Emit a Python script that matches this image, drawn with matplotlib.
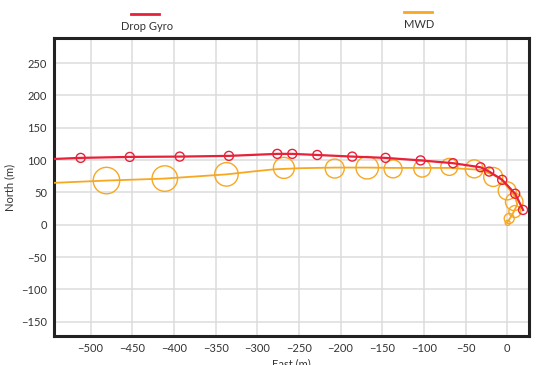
"""
Vista em planta: Drop Gyro x MWD
"""

import matplotlib
matplotlib.use("Agg")
import matplotlib.pyplot as plt
from matplotlib.lines import Line2D

plt.rcParams["font.family"] = ["Lato", "DejaVu Sans"]

# Drop Gyro - trajetória e estações
gyro_line_east = [-560, -512, -453, -393, -334, -276, -258, -228, -186, -146,
                  -104, -65, -32, -21.6, -6, 9.6, 19]
gyro_line_north = [101, 103.5, 105, 105.5, 106.6, 109.7, 109.7, 108, 105.5, 103.5,
                   99.6, 95.3, 89, 82.3, 69.5, 48, 23]
gyro_sta_east = [-512, -453, -393, -334, -276, -258, -228, -186, -146,
                 -104, -65, -32, -21.6, -6, 9.6, 19]
gyro_sta_north = [103.5, 105, 105.5, 106.6, 109.7, 109.7, 108, 105.5, 103.5,
                  99.6, 95.3, 89, 82.3, 69.5, 48, 23]

# MWD - trajetória e elipses de incerteza (diâmetro em px)
mwd_line_east = [-560, -481, -411, -337, -305, -280, -250, -207, -168, -137, -102,
                 -69.5, -32, -8.4, 9.6, 12, 6, 0]
mwd_line_north = [64, 68.4, 71.5, 78, 82.5, 85.8, 87.5, 88.5, 88.5, 88, 88,
                  88, 85, 72.6, 43, 31, 15.4, 3.5]
mwd_sta_east = [-481, -411, -337, -268, -207, -168, -137, -102, -69.5, -39.6,
                -16.8, 0, 8.4, 9.2, 2.4, 0.6]
mwd_sta_north = [68.4, 71.5, 78, 88, 87, 88.3, 86.5, 87, 89.6, 86.5,
                 74, 52.5, 35.5, 20.5, 9.7, 3]
mwd_sta_diam = [26.5, 25.5, 23.5, 21, 19, 22.5, 18, 17, 17, 18,
                19, 18, 17.5, 12, 10, 5]

x_ticks = [-500, -450, -400, -350, -300, -250, -200, -150, -100, -50, 0]
y_ticks = [-150, -100, -50, 0, 50, 100, 150, 200, 250]

RED = "#E8213A"
ORANGE = "#F7A823"
TXT = "#333333"

fig = plt.figure(figsize=(5.36, 3.65), dpi=100)
ax = fig.add_axes([0.1007, 0.0795, 0.886, 0.8165])

ax.plot(mwd_line_east, mwd_line_north, color=ORANGE, lw=1.3, zorder=3)
ax.scatter(mwd_sta_east, mwd_sta_north, s=[(d * 0.72) ** 2 for d in mwd_sta_diam],
           facecolors="none", edgecolors=ORANGE, linewidths=1.0, zorder=3)
ax.plot(gyro_line_east, gyro_line_north, color=RED, lw=1.6, zorder=4)
ax.scatter(gyro_sta_east, gyro_sta_north, s=(9 * 0.72) ** 2,
           facecolors="none", edgecolors=RED, linewidths=1.0, zorder=4)

ax.set_xlim(-544, 26)
ax.set_ylim(-172, 289)
ax.set_xticks(x_ticks)
ax.set_yticks(y_ticks)
ax.tick_params(length=0, labelsize=8, labelcolor=TXT, pad=5)
ax.grid(True, color="#dcdcdc", lw=1.1)
ax.set_axisbelow(True)
for s in ax.spines.values():
    s.set_color("#222222")
    s.set_linewidth(2.2)

ax.set_xlabel("East (m)", fontsize=8, color=TXT, labelpad=3)
ax.set_ylabel("North (m)", fontsize=8, color=TXT, labelpad=4)

# legenda com o traço acima do rótulo
W, H = 536.0, 365.0
fig.add_artist(Line2D([131 / W, 159 / W], [1 - 14 / H, 1 - 14 / H], color=RED, lw=2))
fig.text(147 / W, 1 - 26 / H, "Drop Gyro", ha="center", va="center", fontsize=8, color=TXT)
fig.add_artist(Line2D([404 / W, 432 / W], [1 - 12.3 / H, 1 - 12.3 / H], color=ORANGE, lw=2))
fig.text(419 / W, 1 - 25 / H, "MWD", ha="center", va="center", fontsize=8, color=TXT)

fig.savefig("out.png", dpi=100)
